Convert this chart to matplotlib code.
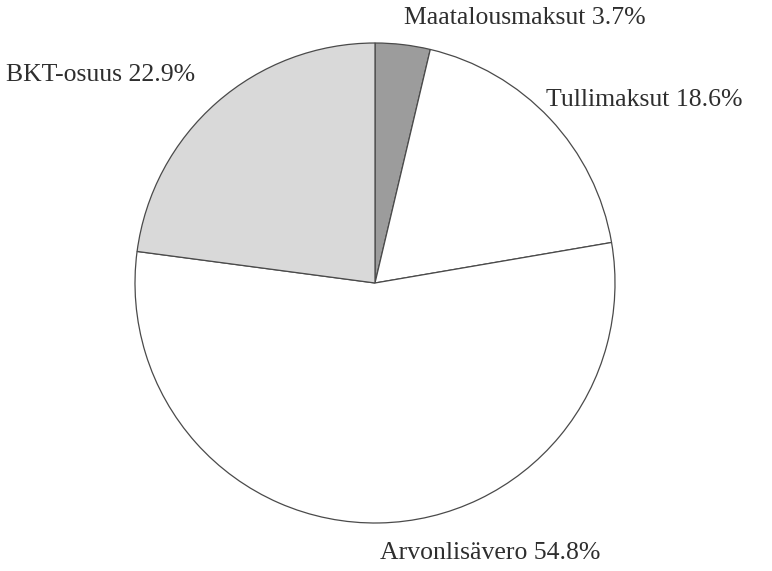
import matplotlib
matplotlib.use("Agg")
import matplotlib.pyplot as plt

labels = ["Maatalousmaksut", "Tullimaksut", "Arvonlisävero", "BKT-osuus"]
shares = [3.7, 18.6, 54.8, 22.9]
colors = ["#9c9c9c", "#ffffff", "#ffffff", "#d9d9d9"]
# label anchor (left x, center y) in pixel coords, top-left origin
label_pos = [(404, 18), (546, 100), (380, 553), (6, 75)]

W, H = 772, 571
fig = plt.figure(figsize=(W / 100, H / 100), dpi=100)
ax = fig.add_axes([0, 0, 1, 1])

ax.pie(
    shares,
    colors=colors,
    startangle=90,
    counterclock=False,
    center=(375, H - 283),
    radius=240,
    wedgeprops={"edgecolor": "#4a4a4a", "linewidth": 0.9},
    frame=True,
)
ax.set_xlim(0, W)
ax.set_ylim(0, H)
ax.set_aspect("equal")
ax.axis("off")

for name, val, (x, y) in zip(labels, shares, label_pos):
    ax.text(x, H - y, f"{name} {val}%", family="Liberation Serif",
            fontsize=18.5, color="#2e2e2e", ha="left", va="center")

fig.savefig("out.png", dpi=100)
